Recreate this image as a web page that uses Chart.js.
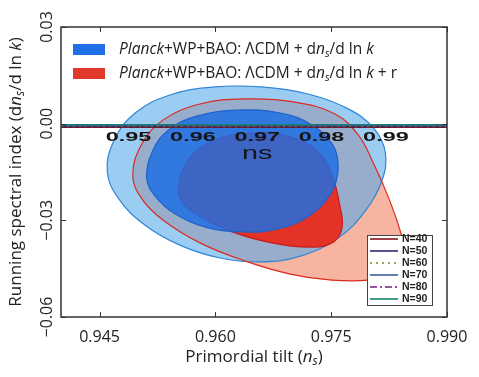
<!DOCTYPE html>
<html><head><meta charset="utf-8">
<script src="https://cdn.jsdelivr.net/npm/chart.js@4.4.1/dist/chart.umd.min.js"></script>
<style>html,body{margin:0;padding:0;background:#fff}#wrap{width:479px;height:377px;position:relative}</style>
</head><body><div id="wrap"><canvas id="c" width="479" height="377"></canvas></div>
<script>
// ---- data ----
const xTicks = [0.945, 0.960, 0.975, 0.990];
const yTicks = [-0.06, -0.03, 0.00, 0.03];
const overlayTicks = [0.95, 0.96, 0.97, 0.98, 0.99];
const overlayAxisLabel = 'ns';

// Planck+WP+BAO LCDM + running : 95% and 68% contours (ns, dns/dlnk)
const blue95NS = [0.9460,0.9469,0.9496,0.9541,0.9599,0.9660,0.9720,0.9772,0.9805,0.9820,0.9816,0.9795,0.9759,0.9710,0.9660,0.9606,0.9554,0.9509,0.9476];
const blue95R  = [-0.0150,-0.0051,0.0033,0.0089,0.0114,0.0114,0.0092,0.0046,-0.0014,-0.0088,-0.0175,-0.0268,-0.0355,-0.0411,-0.0429,-0.0417,-0.0377,-0.0315,-0.0237];
const blue68NS = [0.9511,0.9518,0.9539,0.9577,0.9629,0.9684,0.9725,0.9752,0.9759,0.9750,0.9723,0.9681,0.9636,0.9587,0.9546,0.9522];
const blue68R  = [-0.0169,-0.0088,-0.0020,0.0024,0.0042,0.0033,-0.0004,-0.0066,-0.0138,-0.0215,-0.0284,-0.0327,-0.0336,-0.0321,-0.0277,-0.0225];
// Planck+WP+BAO LCDM + running + r
const red95NS = [0.9493,0.9504,0.9532,0.9580,0.9638,0.9703,0.9755,0.9785,0.9804,0.9824,0.9839,0.9846,0.9834,0.9800,0.9748,0.9697,0.9638,0.9580,0.9532,0.9505];
const red95R  = [-0.0162,-0.0066,0.0011,0.0061,0.0077,0.0067,0.0030,-0.0035,-0.0119,-0.0228,-0.0330,-0.0408,-0.0460,-0.0485,-0.0485,-0.0467,-0.0426,-0.0370,-0.0299,-0.0234];
const red68NS = [0.9552,0.9565,0.9596,0.9647,0.9697,0.9733,0.9751,0.9761,0.9764,0.9751,0.9720,0.9673,0.9622,0.9577,0.9557];
const red68R  = [-0.0200,-0.0113,-0.0054,-0.0029,-0.0041,-0.0088,-0.0159,-0.0252,-0.0324,-0.0370,-0.0383,-0.0370,-0.0336,-0.0284,-0.0243];

// model lines
const nLabels  = ['N=40','N=50','N=60','N=70','N=80','N=90'];
const nRunning = [-0.0011,-0.0009,-0.0007,-0.0005,-0.0004,-0.0003];
const nRange   = [0.94, 0.99];

const legendLabels = [
  [{t:'Planck',i:1},{t:'+WP+BAO: ΛCDM + d'},{t:'n',i:1},{t:'s',i:1,s:1},{t:'/d ln '},{t:'k',i:1}],
  [{t:'Planck',i:1},{t:'+WP+BAO: ΛCDM + d'},{t:'n',i:1},{t:'s',i:1,s:1},{t:'/d ln '},{t:'k',i:1},{t:' + r'}]
];
const xTitle = [{t:'Primordial tilt ('},{t:'n',i:1},{t:'s',i:1,s:1},{t:')'}];
const yTitle = [{t:'Running spectral index (d'},{t:'n',i:1},{t:'s',i:1,s:1},{t:'/d ln '},{t:'k',i:1},{t:')'}];

// ---- styles ----
const FAM = '"Open Sans", "DejaVu Sans", sans-serif';
const nColors = ['#8b1414','#2e2a7a','#6b8e23','#3f5fa8','#7a1a8a','#17806f'];
const nDash = [[],[],[2,4],[],[7,3,2,3],[]];

function pts(xs, ys){ return xs.map((x,k)=>({x:x, y:ys[k]})); }
function contour(xs, ys, fillC, lineC, order, fill){
  return {data: pts(xs,ys), closed:true, showLine:true, pointRadius:0, tension:0.4, fill: fill?'shape':false,
          backgroundColor: fillC, borderColor: lineC, borderWidth: 1.2, order: order};
}
const datasets = [
  contour(red95NS, red95R, 'rgb(247,180,160)', 'rgba(0,0,0,0)', 20, true),
  contour(blue95NS, blue95R, 'rgba(82,168,234,0.58)', '#2f86d6', 19, true),
  contour(red68NS, red68R, 'rgb(228,50,38)', '#c81e1e', 18, true),
  contour(blue68NS, blue68R, 'rgba(30,110,226,0.84)', '#1f62c8', 17, true),
  contour(red95NS, red95R, 'rgba(0,0,0,0)', '#dc2a20', 16, false),
];
nLabels.forEach((lab,k)=>{
  datasets.push({data: nRange.map(x=>({x:x, y:nRunning[k]})), showLine:true, pointRadius:0, fill:false,
    borderColor: nColors[k], borderWidth: 1.5, borderDash: nDash[k], order: 10-k});
});

// close contour lines smoothly through the library's loop support
const loopPlugin = {
  id:'loopfix',
  afterDatasetUpdate(chart, args){
    const ds = chart.data.datasets[args.index];
    const line = args.meta.dataset;
    if (ds.closed && line) { line._loop = true; line._fullLoop = true; line.points = line.points; }
  }
};

function richWidth(ctx, parts, size){
  let w=0; for(const p of parts){ ctx.font = (p.i?'italic ':'')+(p.s?size*0.7:size)+'px '+FAM; w+=ctx.measureText(p.t).width; } return w;
}
function drawRich(ctx, parts, x, y, size, align){
  const w = richWidth(ctx, parts, size);
  let cx = align==='center' ? x - w/2 : x;
  ctx.textBaseline = 'middle'; ctx.textAlign = 'left';
  for(const p of parts){
    ctx.font = (p.i?'italic ':'')+(p.s?size*0.7:size)+'px '+FAM;
    ctx.fillText(p.t, cx, p.s ? y + size*0.28 : y);
    cx += ctx.measureText(p.t).width;
  }
}
function fmtY(v){ const s = Math.abs(v).toFixed(2); return v < 0 ? '\u2212'+s : s; }

const decor = {
  id:'decor',
  afterDatasetsDraw(chart){
    const {ctx, chartArea:a, scales:{x, y, x2}} = chart;
    ctx.save();
    // overlay axis labels
    ctx.fillStyle = '#151515';
    ctx.font = 'bold 13px "Liberation Sans", Arial, sans-serif';
    ctx.textAlign='center'; ctx.textBaseline='middle';
    overlayTicks.forEach(v=>{
      const px = x2.getPixelForValue(v);
      ctx.save(); ctx.translate(px, a.top+110); ctx.scale(1.8,1); ctx.fillText(v.toFixed(2),0,0); ctx.restore();
    });
    ctx.save(); ctx.translate(x2.getPixelForValue(0.97), a.top+127); ctx.scale(1.6,1);
    ctx.font = '18px "Liberation Sans", Arial, sans-serif'; ctx.fillText(overlayAxisLabel,0,0); ctx.restore();

    // frame
    ctx.strokeStyle = '#333'; ctx.lineWidth = 1.5;
    ctx.strokeRect(a.left, a.top, a.right-a.left, a.bottom-a.top);
    ctx.lineWidth = 1;
    xTicks.forEach(v=>{ const px=Math.round(x.getPixelForValue(v))+0.5;
      ctx.beginPath(); ctx.moveTo(px,a.bottom); ctx.lineTo(px,a.bottom-5); ctx.moveTo(px,a.top); ctx.lineTo(px,a.top+5); ctx.stroke(); });
    yTicks.forEach(v=>{ const py=Math.round(y.getPixelForValue(v))+0.5;
      ctx.beginPath(); ctx.moveTo(a.left,py); ctx.lineTo(a.left+5,py); ctx.moveTo(a.right,py); ctx.lineTo(a.right-5,py); ctx.stroke(); });

    // y tick labels (rotated)
    ctx.fillStyle = '#222'; ctx.font = '16px '+FAM; ctx.textAlign='center'; ctx.textBaseline='middle';
    yTicks.forEach(v=>{ const py=y.getPixelForValue(v);
      ctx.save(); ctx.translate(a.left-14, py); ctx.rotate(-Math.PI/2); ctx.fillText(fmtY(v),0,0); ctx.restore(); });

    // axis titles
    ctx.fillStyle = '#222';
    drawRich(ctx, xTitle, (a.left+a.right)/2, a.bottom+40, 17, 'center');
    ctx.save(); ctx.translate(16, (a.top+a.bottom)/2); ctx.rotate(-Math.PI/2);
    drawRich(ctx, yTitle, 0, 0, 17, 'center'); ctx.restore();

    // top-left legend
    const lc = ['#1f70e6','#e2382b'];
    legendLabels.forEach((parts,k)=>{
      const yy = a.top + 23 + k*24;
      ctx.fillStyle = lc[k]; ctx.fillRect(a.left+12, yy-6, 32, 11);
      ctx.fillStyle = '#222'; drawRich(ctx, parts, a.left+58, yy, 15.5, 'left');
    });

    // bottom-right legend
    const bx = a.right-80, by = a.bottom-82;
    ctx.fillStyle='#fff'; ctx.fillRect(bx,by,65,70);
    ctx.strokeStyle='#444'; ctx.lineWidth=1; ctx.strokeRect(bx+0.5,by+0.5,65,70);
    ctx.font = 'bold 10.5px "Liberation Sans", Arial, sans-serif'; ctx.textAlign='left'; ctx.textBaseline='middle';
    nLabels.forEach((lab,k)=>{
      const yy = by + 4 + k*12;
      ctx.strokeStyle = nColors[k]; ctx.lineWidth = 1.6; ctx.setLineDash(nDash[k]);
      ctx.beginPath(); ctx.moveTo(bx+3, yy); ctx.lineTo(bx+31, yy); ctx.stroke(); ctx.setLineDash([]);
      ctx.fillStyle='#222'; ctx.fillText(lab, bx+35, yy);
    });
    ctx.restore();
  }
};

new Chart(document.getElementById('c'), {
  type:'scatter',
  data:{datasets},
  options:{
    responsive:false, animation:false, devicePixelRatio:1,
    layout:{padding:{left:0, top:27, right:32, bottom:0}},
    plugins:{legend:{display:false}, tooltip:{enabled:false}},
    scales:{
      x:{type:'linear', min:0.94, max:0.99,
         grid:{display:false, drawTicks:false}, border:{display:false},
         afterBuildTicks: s=>{ s.ticks = xTicks.map(v=>({value:v})); },
         ticks:{font:{family:FAM, size:16}, color:'#222', padding:11, maxRotation:0, callback:v=>v.toFixed(3)},
         afterFit: s=>{ s.height = 60; }},
      y:{type:'linear', min:-0.06, max:0.03,
         grid:{display:false, drawTicks:false}, border:{display:false},
         afterBuildTicks: s=>{ s.ticks = yTicks.map(v=>({value:v})); },
         ticks:{display:false},
         afterFit: s=>{ s.width = 61; }},
      x2:{type:'linear', display:false, min:0.9395, max:0.9995}
    }
  },
  plugins:[loopPlugin, decor]
});
</script></body></html>
